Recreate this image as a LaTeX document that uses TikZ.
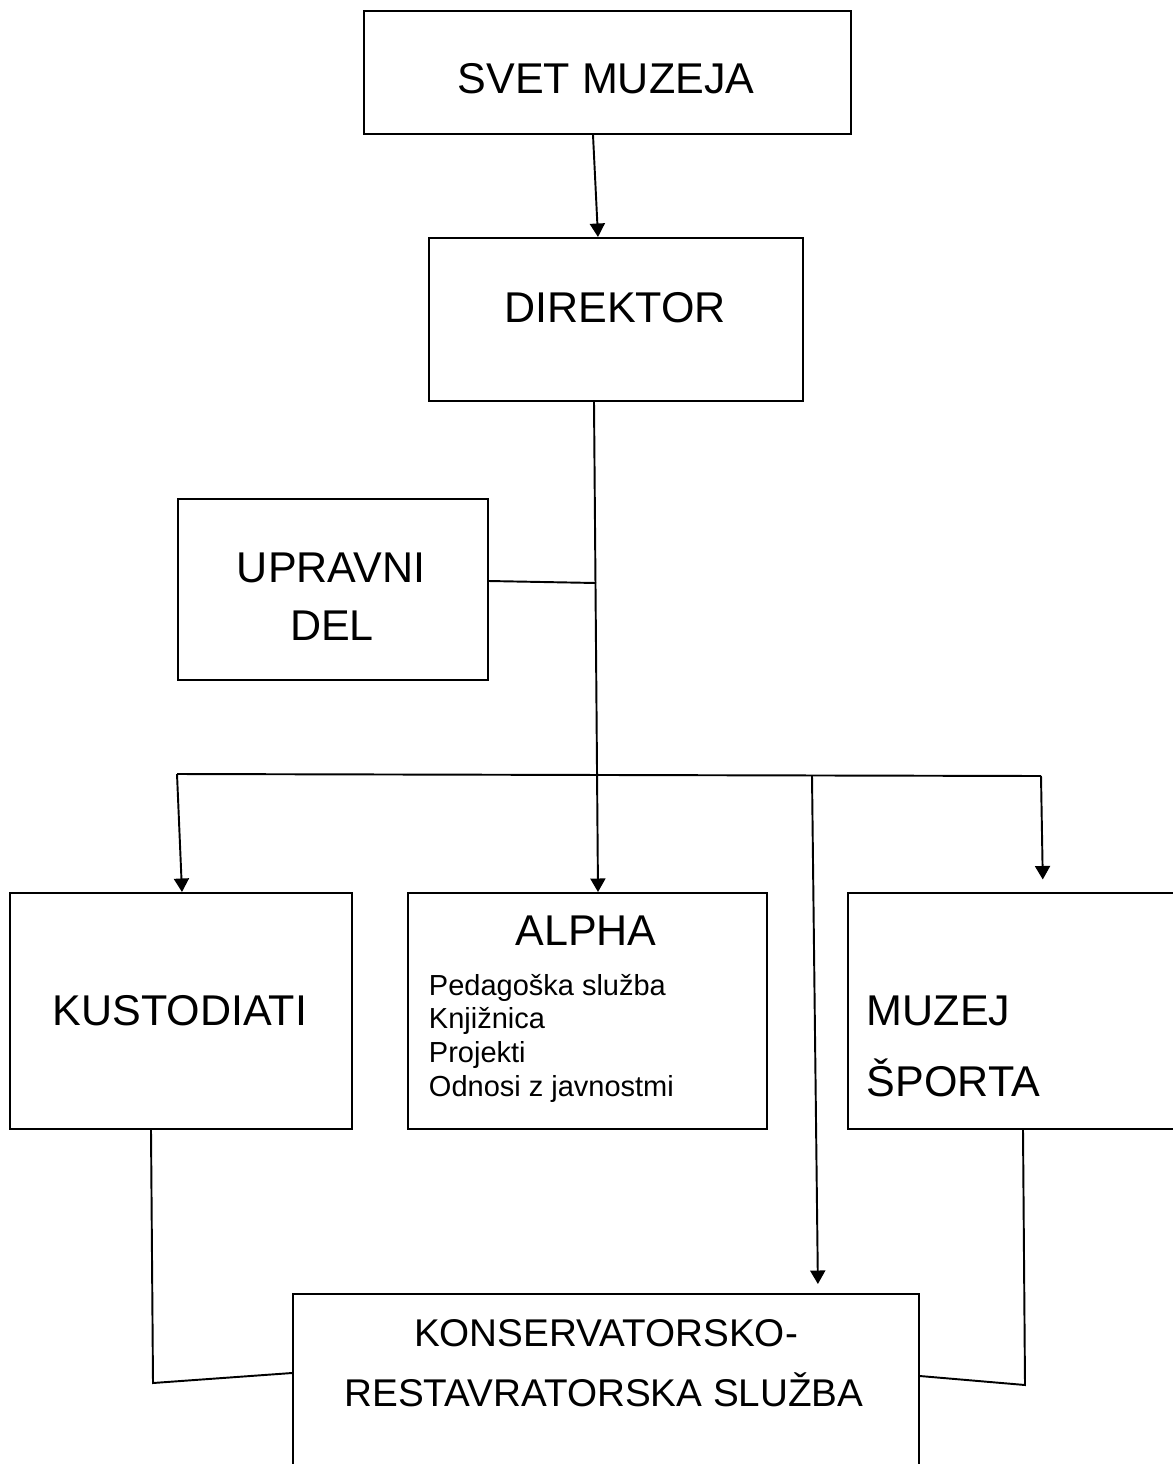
\documentclass[tikz,border=0pt]{standalone}
\usepackage{fontspec}
\setmainfont{Liberation Sans}
\usetikzlibrary{arrows.meta}

\begin{document}
\begin{tikzpicture}[x=0.02cm,y=-0.02cm,line width=1.1pt,
	box/.style={draw,rectangle,inner sep=0pt,anchor=north west},
	big/.style={font=\fontsize{24.5pt}{29pt}\selectfont,inner sep=0pt},
	mid/.style={font=\fontsize{22pt}{27pt}\selectfont,inner sep=0pt},
	small/.style={font=\fontsize{16.5pt}{20pt}\selectfont,inner sep=0pt},
	arr/.style={-{Triangle[length=0.27cm,width=0.3cm]}}]
	\useasboundingbox (0,0) rectangle (1173,1464);
	%Boxes
	\node (svet) [box,minimum width=9.74cm,minimum height=2.46cm] at (363,10) {};
	\node (direktor) [box,minimum width=7.48cm,minimum height=3.26cm] at (428,237) {};
	\node (upravni) [box,minimum width=6.2cm,minimum height=3.62cm] at (177,498) {};
	\node (kustodiati) [box,minimum width=6.84cm,minimum height=4.72cm] at (9,892) {};
	\node (alpha) [box,minimum width=7.18cm,minimum height=4.72cm] at (407,892) {};
	\node (muzej) [box,minimum width=6.86cm,minimum height=4.72cm] at (847,892) {};
	\node (konserv) [box,minimum width=12.52cm,minimum height=3.74cm] at (292,1293) {};
	%Texts
	\node (svettxt) [big,anchor=base] at (606,93) {SVET MUZEJA};
	\node (dirtxt) [big,anchor=base] at (615,322) {DIREKTOR};
	\node (uprtxt1) [big,anchor=base] at (331,582) {UPRAVNI};
	\node (uprtxt2) [big,anchor=base] at (332,640) {DEL};
	\node (kustxt) [big,anchor=base] at (180,1025) {KUSTODIATI};
	\node (alphatxt) [big,anchor=base] at (586,945) {ALPHA};
	\foreach \t [count=\i] in {Pedagoška služba,Knjižnica,Projekti,Odnosi z javnostmi}
		\node (item\i) [small,anchor=base west] at (428,{995+33.7*(\i-1)}) {\t};
	\node (muztxt1) [big,anchor=base west] at (866,1025) {MUZEJ};
	\node (muztxt2) [big,anchor=base west] at (866,1096) {ŠPORTA};
	\node (kontxt1) [mid,anchor=base] at (606,1346) {KONSERVATORSKO-};
	\node (kontxt2) [mid,anchor=base] at (604,1406) {RESTAVRATORSKA SLUŽBA};
	%Arrows from the top
	\draw [arr] (svet.south -| 593,0) to (direktor.north -| 598,0);
	\draw [arr] (direktor.south -| 594,0) to (alpha.north -| 598,0);
	\coordinate (jupr) at (596,583);
	\draw (upravni.east |- 0,581) to (jupr);
	%Bus line
	\coordinate (busl) at (177,774);
	\coordinate (busm) at (812,775.5);
	\coordinate (busr) at (1041,776);
	\draw (busl) to (busr);
	\draw [arr] (busl) to (kustodiati.north -| 182,0);
	\draw [arr,shorten >=0.18cm] (busm) to (konserv.north -| 818,0);
	\draw [arr,shorten >=0.25cm] (busr) to (muzej.north -| 1043,0);
	%Links to the bottom box
	\draw (kustodiati.south -| 151,0) to (153,1383) to (konserv.west |- 0,1373);
	\draw (muzej.south -| 1023,0) to (1025,1385) to (konserv.east |- 0,1376);
\end{tikzpicture}
\end{document}
